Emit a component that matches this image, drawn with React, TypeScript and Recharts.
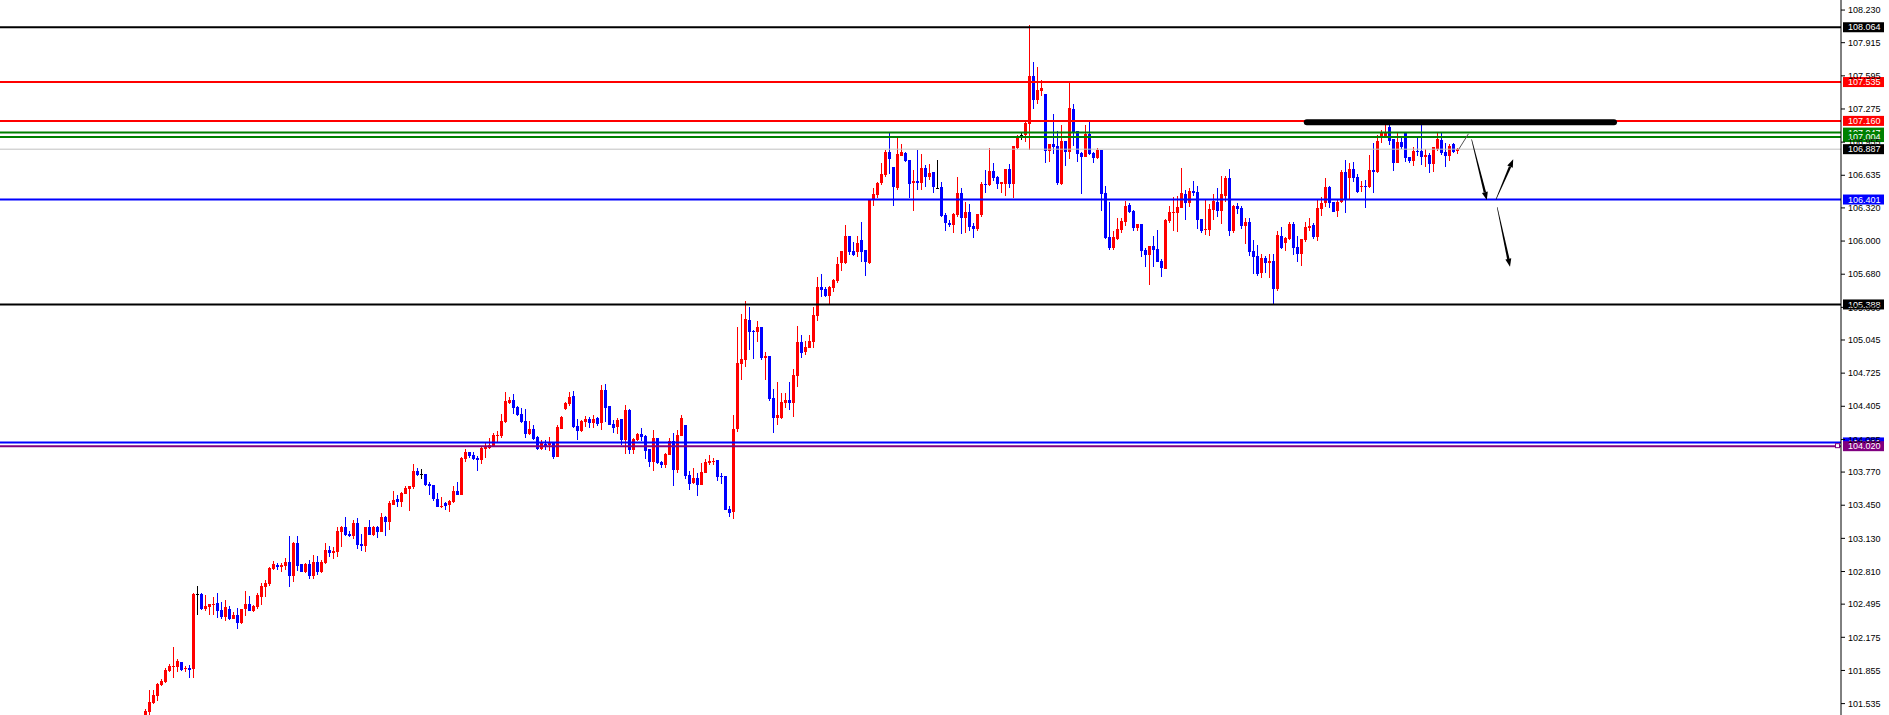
import { ComposedChart, Bar, XAxis, YAxis, ReferenceLine } from 'recharts';

// candle values, one entry per bar, oldest first
const open = [
  101.41, 101.451, 101.538, 101.612, 101.715, 101.747, 101.85, 101.889, 101.892, 101.934,
  101.866, 101.879, 101.869, 102.593, 102.596, 102.452, 102.471, 102.49, 102.506, 102.439,
  102.371, 102.448, 102.352, 102.39, 102.313, 102.448, 102.497, 102.429, 102.468, 102.564,
  102.661, 102.69, 102.838, 102.873, 102.857, 102.864, 102.902, 102.767, 103.086, 102.883,
  102.809, 102.883, 102.77, 102.902, 102.806, 102.896, 103.018, 102.992, 103.002, 103.195,
  103.24, 103.172, 103.156, 103.282, 103.079, 103.06, 103.24, 103.166, 103.243, 103.195,
  103.34, 103.292, 103.456, 103.51, 103.481, 103.558, 103.607, 103.626, 103.78, 103.751,
  103.751, 103.655, 103.645, 103.51, 103.433, 103.471, 103.452, 103.481, 103.587, 103.549,
  103.896, 103.964, 103.935, 103.906, 103.886, 103.993, 104.002, 104.022, 104.118, 104.118,
  104.253, 104.437, 104.466, 104.398, 104.331, 104.263, 104.138, 104.186, 104.109, 103.993,
  104.041, 104.031, 104.06, 103.915, 104.186, 104.379, 104.427, 104.504, 104.215, 104.166,
  104.253, 104.282, 104.244, 104.292, 104.244, 104.562, 104.408, 104.234, 104.205, 104.282,
  104.08, 104.369, 103.983, 104.08, 104.138, 104.118, 103.993, 103.867, 104.099, 103.867,
  103.838, 103.935, 104.07, 103.79, 104.118, 104.224, 103.742, 103.664, 103.713, 103.645,
  103.761, 103.86, 103.864, 103.883, 103.735, 103.732, 103.413, 103.388, 104.186, 104.813,
  104.852, 105.238, 105.135, 105.125, 105.17, 104.871, 104.89, 104.488, 104.295, 104.295,
  104.44, 104.466, 104.44, 104.697, 105.025, 104.929, 104.968, 105.025, 105.276, 105.557,
  105.537, 105.47, 105.55, 105.618, 105.785, 105.792, 106.049, 105.907, 105.898, 106.01,
  105.914, 105.785, 106.397, 106.445, 106.557, 106.638, 106.86, 106.712, 106.516, 106.821,
  106.853, 106.783, 106.557, 106.583, 106.564, 106.702, 106.622, 106.667, 106.516, 106.519,
  106.252, 106.178, 106.155, 106.252, 106.467, 106.226, 106.284, 106.149, 106.12, 106.252,
  106.551, 106.541, 106.68, 106.622, 106.551, 106.551, 106.695, 106.551, 106.895, 107.027,
  107.024, 107.13, 107.593, 107.362, 107.452, 107.42, 106.869, 106.937, 106.918, 106.547,
  106.966, 106.86, 107.278, 107.062, 106.853, 106.815, 107.037, 106.853, 106.805, 106.879,
  106.467, 106.039, 105.93, 106.023, 106.107, 106.188, 106.348, 106.29, 106.13, 106.165,
  105.914, 105.866, 105.953, 105.924, 105.808, 105.734, 106.197, 106.274, 106.271, 106.323,
  106.455, 106.371, 106.487, 106.474, 106.216, 106.107, 106.107, 106.3, 106.381, 106.29,
  106.435, 106.609, 106.097, 106.339, 106.323, 106.146, 106.184, 105.904, 105.856, 105.695,
  105.837, 105.792, 105.808, 105.541, 106.049, 105.985, 106.023, 106.165, 105.943, 105.875,
  106.01, 106.13, 106.152, 106.039, 106.307, 106.364, 106.525, 106.381, 106.29, 106.374,
  106.67, 106.606, 106.696, 106.615, 106.519, 106.532, 106.525, 106.686, 106.67, 107.002,
  107.008, 107.105, 106.982, 106.757, 106.96, 107.04, 106.815, 106.776, 106.873, 106.87,
  106.815, 106.831, 106.744, 106.892, 106.976, 106.86, 106.821, 106.934, 106.866,
];

const high = [
  101.486, 101.666, 101.666, 101.737, 101.776, 101.882, 101.917, 102.082, 101.969, 101.94,
  101.901, 101.908, 102.606, 102.67, 102.603, 102.587, 102.497, 102.564, 102.603, 102.516,
  102.535, 102.477, 102.423, 102.461, 102.448, 102.619, 102.574, 102.487, 102.6, 102.699,
  102.728, 102.854, 102.912, 102.892, 102.892, 102.941, 103.153, 103.095, 103.153, 102.883,
  102.896, 102.921, 102.97, 102.96, 102.921, 103.086, 103.057, 103.047, 103.243, 103.253,
  103.337, 103.201, 103.304, 103.327, 103.172, 103.24, 103.308, 103.25, 103.253, 103.375,
  103.349, 103.491, 103.588, 103.546, 103.578, 103.639, 103.636, 103.848, 103.809, 103.8,
  103.751, 103.674, 103.645, 103.568, 103.529, 103.481, 103.5, 103.636, 103.674, 103.915,
  103.993, 103.964, 103.964, 103.925, 104.012, 104.06, 104.099, 104.147, 104.166, 104.331,
  104.543, 104.495, 104.524, 104.408, 104.389, 104.379, 104.263, 104.224, 104.118, 104.08,
  104.08, 104.109, 104.06, 104.224, 104.311, 104.446, 104.543, 104.553, 104.282, 104.273,
  104.311, 104.302, 104.321, 104.302, 104.611, 104.62, 104.408, 104.273, 104.292, 104.282,
  104.417, 104.379, 104.099, 104.147, 104.195, 104.128, 103.993, 104.176, 104.099, 103.877,
  103.954, 104.099, 104.147, 104.176, 104.321, 104.224, 103.78, 103.809, 103.761, 103.858,
  103.896, 103.935, 103.909, 103.883, 103.764, 103.732, 103.442, 104.321, 105.17, 105.299,
  105.421, 105.363, 105.141, 105.228, 105.17, 104.929, 104.89, 104.575, 104.639, 104.533,
  104.533, 104.639, 104.765, 105.18, 105.093, 105.035, 105.093, 105.36, 105.656, 105.682,
  105.56, 105.566, 105.631, 105.849, 105.901, 106.155, 106.049, 105.994, 106.049, 106.184,
  105.914, 106.397, 106.512, 106.574, 106.754, 106.879, 107.04, 106.712, 106.995, 106.937,
  106.86, 106.783, 106.686, 106.879, 106.841, 106.735, 106.741, 106.667, 106.783, 106.574,
  106.268, 106.204, 106.274, 106.615, 106.516, 106.38, 106.358, 106.171, 106.261, 106.574,
  106.686, 106.899, 106.75, 106.628, 106.567, 106.695, 106.744, 106.918, 107.027, 107.046,
  107.149, 108.086, 107.728, 107.68, 107.555, 107.42, 106.937, 107.226, 107.062, 107.12,
  106.966, 107.539, 107.323, 107.062, 106.863, 107.12, 107.149, 106.863, 106.901, 106.879,
  106.531, 106.38, 106.1, 106.22, 106.22, 106.387, 106.364, 106.303, 106.165, 106.165,
  105.933, 105.953, 106.049, 106.107, 105.824, 106.213, 106.339, 106.426, 106.435, 106.706,
  106.493, 106.513, 106.58, 106.532, 106.216, 106.397, 106.361, 106.455, 106.513, 106.628,
  106.628, 106.696, 106.348, 106.368, 106.339, 106.226, 106.223, 106.011, 105.959, 105.875,
  105.856, 105.872, 105.875, 106.097, 106.136, 106.043, 106.184, 106.184, 106.049, 106.017,
  106.181, 106.223, 106.171, 106.397, 106.429, 106.606, 106.532, 106.381, 106.397, 106.686,
  106.78, 106.757, 106.763, 106.648, 106.583, 106.59, 106.831, 106.944, 107.024, 107.072,
  107.121, 107.121, 106.982, 107.056, 107.002, 107.04, 106.815, 106.911, 107.015, 107.121,
  106.886, 106.847, 106.911, 107.04, 107.04, 106.944, 106.934, 106.944, 106.895,
];

const low = [
  101.4, 101.4, 101.528, 101.56, 101.705, 101.737, 101.84, 101.786, 101.84, 101.853,
  101.843, 101.786, 101.786, 102.39, 102.442, 102.426, 102.394, 102.39, 102.365, 102.352,
  102.336, 102.342, 102.35, 102.255, 102.304, 102.381, 102.429, 102.419, 102.448, 102.487,
  102.564, 102.67, 102.825, 102.828, 102.809, 102.828, 102.664, 102.712, 102.815, 102.809,
  102.796, 102.738, 102.738, 102.78, 102.793, 102.886, 102.954, 102.931, 102.954, 103.05,
  103.153, 103.143, 103.124, 103.031, 103.012, 102.999, 103.163, 103.153, 103.137, 103.192,
  103.156, 103.211, 103.449, 103.436, 103.436, 103.558, 103.394, 103.607, 103.732, 103.703,
  103.636, 103.549, 103.491, 103.433, 103.423, 103.404, 103.385, 103.471, 103.549, 103.549,
  103.867, 103.906, 103.886, 103.78, 103.848, 103.906, 103.993, 104.022, 104.06, 104.099,
  104.244, 104.427, 104.331, 104.311, 104.244, 104.099, 104.128, 104.08, 103.983, 103.983,
  103.983, 103.973, 103.896, 103.915, 104.186, 104.369, 104.408, 104.195, 104.08, 104.157,
  104.205, 104.195, 104.195, 104.215, 104.176, 104.253, 104.224, 104.147, 104.138, 104.031,
  103.944, 103.944, 103.944, 104.07, 104.07, 103.896, 103.819, 103.78, 103.848, 103.809,
  103.809, 103.935, 103.636, 103.761, 104.118, 103.703, 103.597, 103.655, 103.539, 103.645,
  103.761, 103.838, 103.838, 103.684, 103.655, 103.404, 103.339, 103.313, 104.16, 104.659,
  104.784, 104.948, 104.861, 105.025, 104.852, 104.659, 104.459, 104.147, 104.224, 104.285,
  104.388, 104.369, 104.305, 104.591, 104.871, 104.9, 104.968, 104.968, 105.228, 105.463,
  105.463, 105.392, 105.508, 105.592, 105.714, 105.779, 105.866, 105.859, 105.849, 105.801,
  105.663, 105.779, 106.339, 106.419, 106.541, 106.622, 106.648, 106.339, 106.493, 106.821,
  106.767, 106.419, 106.294, 106.493, 106.493, 106.519, 106.59, 106.467, 106.509, 106.236,
  106.1, 106.139, 106.081, 106.236, 106.068, 106.075, 106.1, 106.033, 106.1, 106.236,
  106.461, 106.532, 106.583, 106.506, 106.461, 106.435, 106.509, 106.419, 106.889, 106.975,
  106.959, 106.879, 107.275, 107.323, 107.4, 106.753, 106.76, 106.844, 106.541, 106.541,
  106.724, 106.792, 106.921, 106.76, 106.454, 106.815, 106.831, 106.757, 106.795, 106.293,
  106.02, 105.914, 105.914, 106.011, 106.081, 106.146, 106.274, 106.097, 106.097, 105.85,
  105.753, 105.579, 105.753, 105.801, 105.657, 105.734, 106.178, 106.097, 106.088, 106.316,
  106.204, 106.332, 106.438, 106.117, 106.081, 106.059, 106.052, 106.204, 106.236, 106.165,
  106.377, 106.049, 106.081, 106.262, 106.117, 105.972, 105.856, 105.682, 105.663, 105.647,
  105.695, 105.644, 105.396, 105.521, 105.927, 105.908, 106.011, 105.866, 105.798, 105.763,
  105.994, 106.097, 106.02, 106.004, 106.242, 106.332, 106.316, 106.281, 106.236, 106.364,
  106.268, 106.397, 106.574, 106.467, 106.477, 106.323, 106.509, 106.467, 106.66, 106.944,
  107.002, 106.928, 106.68, 106.751, 106.886, 106.76, 106.757, 106.725, 106.821, 106.734,
  106.712, 106.66, 106.67, 106.873, 106.831, 106.718, 106.776, 106.847, 106.841,
];

const close = [
  101.467, 101.547, 101.618, 101.724, 101.753, 101.86, 101.898, 101.901, 101.95, 101.86,
  101.882, 101.863, 102.596, 102.593, 102.448, 102.481, 102.497, 102.495, 102.432, 102.374,
  102.468, 102.352, 102.39, 102.313, 102.448, 102.497, 102.429, 102.477, 102.584, 102.67,
  102.699, 102.841, 102.883, 102.857, 102.873, 102.902, 102.767, 103.089, 102.867, 102.809,
  102.883, 102.77, 102.902, 102.806, 102.902, 103.018, 102.992, 103.008, 103.205, 103.243,
  103.166, 103.153, 103.282, 103.069, 103.06, 103.24, 103.166, 103.243, 103.195, 103.337,
  103.292, 103.472, 103.497, 103.485, 103.568, 103.616, 103.636, 103.78, 103.742, 103.751,
  103.645, 103.636, 103.51, 103.433, 103.442, 103.446, 103.491, 103.587, 103.549, 103.906,
  103.964, 103.925, 103.896, 103.886, 104.002, 104.022, 104.031, 104.128, 104.128, 104.263,
  104.456, 104.466, 104.389, 104.321, 104.253, 104.138, 104.186, 104.089, 103.993, 104.051,
  104.022, 104.051, 103.915, 104.205, 104.302, 104.437, 104.495, 104.205, 104.166, 104.263,
  104.282, 104.244, 104.282, 104.234, 104.562, 104.389, 104.224, 104.195, 104.273, 104.08,
  104.369, 103.983, 104.089, 104.138, 104.109, 103.973, 103.867, 104.099, 103.858, 103.838,
  103.944, 104.07, 103.79, 104.128, 104.292, 103.732, 103.655, 103.713, 103.645, 103.771,
  103.867, 103.877, 103.877, 103.725, 103.725, 103.404, 103.378, 104.186, 104.823, 104.861,
  105.247, 105.125, 105.125, 105.17, 104.871, 104.89, 104.478, 104.295, 104.321, 104.446,
  104.466, 104.44, 104.707, 105.025, 104.922, 104.977, 105.035, 105.286, 105.557, 105.528,
  105.47, 105.56, 105.624, 105.779, 105.901, 106.049, 105.898, 105.869, 105.985, 105.898,
  105.801, 106.397, 106.455, 106.557, 106.648, 106.86, 106.796, 106.525, 106.841, 106.86,
  106.776, 106.551, 106.583, 106.564, 106.702, 106.622, 106.66, 106.519, 106.516, 106.242,
  106.178, 106.155, 106.261, 106.467, 106.226, 106.284, 106.139, 106.12, 106.261, 106.551,
  106.538, 106.68, 106.612, 106.551, 106.567, 106.695, 106.551, 106.918, 107.014, 107.027,
  107.136, 107.593, 107.362, 107.458, 107.477, 106.869, 106.937, 106.911, 106.557, 106.966,
  106.86, 107.288, 107.056, 106.84, 106.815, 107.037, 106.84, 106.805, 106.879, 106.454,
  106.029, 105.93, 106.039, 106.117, 106.197, 106.339, 106.281, 106.13, 106.165, 105.908,
  105.866, 105.953, 105.914, 105.801, 105.743, 106.204, 106.281, 106.281, 106.332, 106.464,
  106.371, 106.487, 106.467, 106.204, 106.097, 106.12, 106.313, 106.384, 106.29, 106.455,
  106.609, 106.097, 106.339, 106.31, 106.146, 106.184, 105.898, 105.85, 105.682, 105.837,
  105.792, 105.811, 105.541, 106.056, 105.937, 106.033, 106.165, 105.937, 105.875, 106.017,
  106.136, 106.146, 106.039, 106.316, 106.371, 106.519, 106.371, 106.284, 106.381, 106.67,
  106.397, 106.696, 106.606, 106.477, 106.532, 106.519, 106.686, 106.67, 106.969, 107.04,
  107.047, 106.969, 106.757, 106.96, 106.905, 106.799, 106.77, 106.873, 106.86, 106.815,
  106.831, 106.744, 106.905, 106.982, 106.854, 106.821, 106.921, 106.86, 106.887,
];

// price scale
const priceTicks = [
  108.23, 107.915, 107.595, 107.275, 106.955, 106.635, 106.32, 106.0, 105.68, 105.36, 105.045,
  104.725, 104.405, 104.085, 103.77, 103.45, 103.13, 102.81, 102.495, 102.175, 101.855, 101.535,
];

// horizontal levels drawn on the chart
const levelPrices = [108.064, 107.535, 107.16, 107.047, 107.004, 106.887, 106.401, 105.388, 104.056, 104.02];
const levelColors = ['#000000', '#ff0000', '#ff0000', '#008000', '#008000', '#c0c0c0', '#0000ff', '#000000', '#0000ff', '#800080'];
const levelTagColors = ['#000000', '#ff0000', '#ff0000', '#008000', '#008000', '#000000', '#0000ff', '#000000', '#0000ff', '#800080'];

// hand-drawn annotations (bar index, price)
const arrowFrom = [[331.4, 106.982], [337.5, 106.403], [337.8, 106.326]];
const arrowTo = [[335.2, 106.396], [341.8, 106.789], [341.0, 105.752]];
const trendFrom = [328.2, 106.887];
const trendTo = [330.6, 107.035];
const resistanceFrom = 290.2;
const resistanceTo = 367;
const resistancePrice = 107.146;

const UP = '#ff0000';
const DOWN = '#0000ff';
const DOJI = '#000000';
const FONT = '"Liberation Sans", Arial, sans-serif';

const data = open.map((o, i) => ({
  i,
  o,
  h: high[i],
  l: low[i],
  c: close[i],
  range: [low[i], high[i]],
}));

function Candle(props: any) {
  const { x, y, width, height, payload } = props;
  if (x == null || y == null || !payload) return null;
  const top = Math.min(y, y + height);
  const bot = Math.max(y, y + height);
  const { o, h, l, c } = payload;
  const span = h - l || 1;
  const py = (v: number) => top + ((h - v) / span) * (bot - top);
  const cx = Math.round(x + width / 2 - 0.5);
  const color = o === c ? DOJI : c > o ? UP : DOWN;
  const bt = Math.round(py(Math.max(o, c)));
  const bb = Math.round(py(Math.min(o, c)));
  const wt = Math.round(top);
  const wb = Math.round(bot);
  return (
    <g>
      <rect x={cx} y={wt} width={1} height={Math.max(1, wb - wt)} fill={color} />
      <rect x={cx - 1} y={bt} width={3} height={Math.max(1, bb - bt)} fill={color} />
    </g>
  );
}

function PriceTag(props: any) {
  const { viewBox, price, bg, marker } = props;
  if (!viewBox) return null;
  const right = (viewBox.x ?? 0) + (viewBox.width ?? 0);
  const yy = viewBox.y;
  return (
    <g>
      {marker && <rect x={right - 5.5} y={yy - 2.5} width={4} height={4} fill="#fff" stroke={bg} strokeWidth={1} />}
      <rect x={right + 2} y={yy - 5} width={41} height={10} fill={bg} />
      <text x={right + 7} y={yy} dy="0.36em" fontSize={9} fontFamily={FONT} fill="#ffffff">
        {price.toFixed(3)}
      </text>
    </g>
  );
}

function Arrow(props: any) {
  const { x1, y1, x2, y2 } = props;
  if (x1 == null) return null;
  const ang = Math.atan2(y2 - y1, x2 - x1);
  const len = 8;
  const half = 3;
  const bx = x2 - len * Math.cos(ang);
  const by = y2 - len * Math.sin(ang);
  const nx = -Math.sin(ang);
  const ny = Math.cos(ang);
  const head = `${x2},${y2} ${bx + nx * half},${by + ny * half} ${bx - nx * half},${by - ny * half}`;
  const shaft = `${x1 + nx * 0.3},${y1 + ny * 0.3} ${bx + nx * 1.2},${by + ny * 1.2} ${bx - nx * 1.2},${by - ny * 1.2} ${x1 - nx * 0.3},${y1 - ny * 0.3}`;
  return (
    <g>
      <polygon points={shaft} fill="#000" />
      <polygon points={head} fill="#000" />
    </g>
  );
}

export default function App() {
  return (
    <div style={{ position: 'absolute', left: 0, top: 0, background: '#ffffff' }}>
      <ComposedChart width={1889} height={715} data={data} margin={{ top: 0, right: 0, bottom: 0, left: 0 }}>
        <XAxis dataKey="i" type="number" domain={[-36.5, 423.75]} allowDataOverflow hide />
        <YAxis
          orientation="right"
          width={48}
          domain={[101.425, 108.327]}
          allowDataOverflow
          ticks={priceTicks}
          interval={0}
          tickSize={4}
          tickMargin={3}
          tickFormatter={(v: number) => v.toFixed(3)}
          tick={{ fontSize: 9, fontFamily: FONT, fill: '#000000' }}
          axisLine={{ stroke: '#000000' }}
          tickLine={{ stroke: '#000000' }}
        />
        {levelPrices.map((p, k) => (
          <ReferenceLine
            key={`lvl-${k}`}
            y={p}
            stroke={levelColors[k]}
            strokeWidth={levelColors[k] === '#c0c0c0' ? 1 : 2}
            ifOverflow="visible"
            label={(lp: any) => <PriceTag {...lp} price={p} bg={levelTagColors[k]} marker={k === levelPrices.length - 1} />}
          />
        ))}
        <Bar dataKey="range" shape={Candle} barSize={3} isAnimationActive={false} />
        <ReferenceLine
          segment={[{ x: resistanceFrom, y: resistancePrice }, { x: resistanceTo, y: resistancePrice }]}
          ifOverflow="visible"
          shape={(sp: any) => (
            <line x1={sp.x1} y1={sp.y1} x2={sp.x2} y2={sp.y2} stroke="#000" strokeWidth={6} strokeLinecap="round" />
          )}
        />
        <ReferenceLine
          segment={[{ x: trendFrom[0], y: trendFrom[1] }, { x: trendTo[0], y: trendTo[1] }]}
          ifOverflow="visible"
          stroke="#555555"
          strokeWidth={1}
        />
        {arrowFrom.map((a, k) => (
          <ReferenceLine
            key={`arr-${k}`}
            segment={[{ x: a[0], y: a[1] }, { x: arrowTo[k][0], y: arrowTo[k][1] }]}
            ifOverflow="visible"
            shape={Arrow}
          />
        ))}
      </ComposedChart>
    </div>
  );
}
